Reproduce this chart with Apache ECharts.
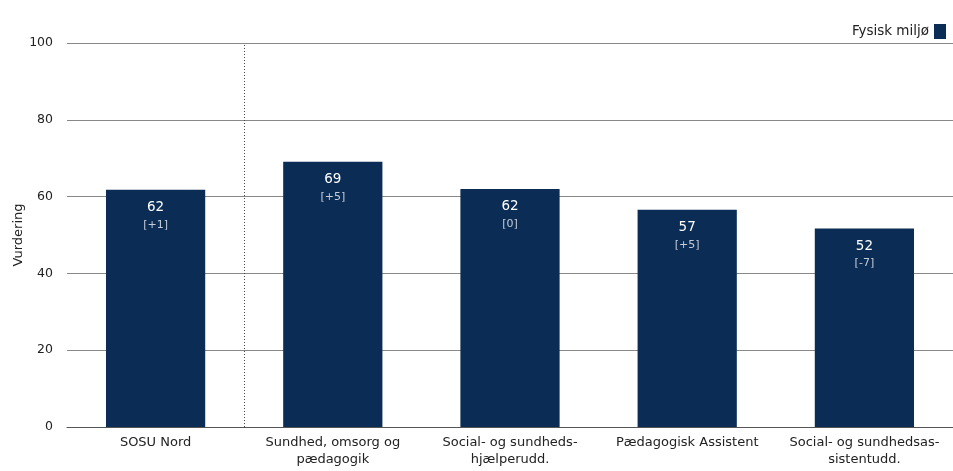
<!DOCTYPE html>
<html><head><meta charset="utf-8">
<script src="https://cdn.jsdelivr.net/npm/echarts@6/dist/echarts.min.js"></script>
<style>html,body{margin:0;padding:0;background:#fff}#c{width:953px;height:471px}</style>
</head><body><div id="c"></div>
<script>
const categories = ['SOSU Nord', 'Sundhed, omsorg og\npædagogik', 'Social- og sundheds-\nhjælperudd.', 'Pædagogisk Assistent', 'Social- og sundhedsas-\nsistentudd.'];
const values = [61.8, 69.1, 62, 56.6, 51.7];
const valueLabels = ['62', '69', '62', '57', '52'];
const changes = ['[+1]', '[+5]', '[0]', '[+5]', '[-7]'];
const yTicks = [0, 20, 40, 60, 80, 100];
const seriesName = 'Fysisk miljø';
const dividerAt = [1];

const FONT = '"DejaVu Sans", sans-serif';
const chart = echarts.init(document.getElementById('c'));
chart.setOption({
  animation: false,
  textStyle: {fontFamily: FONT},
  legend: {
    data: [{name: seriesName, icon: 'rect'}], right: 2, top: 19, align: 'right',
    itemWidth: 12, itemHeight: 15, itemGap: 6,
    textStyle: {fontFamily: FONT, fontSize: 13.5, color: '#222'}
  },
  grid: {left: 67, right: 0, top: 43, bottom: 44, containLabel: false, outerBoundsMode: 'none'},
  xAxis: [{
    type: 'category', data: categories,
    axisLine: {lineStyle: {color: '#555', width: 1}},
    axisTick: {show: false},
    axisLabel: {fontFamily: FONT, fontSize: 13, color: '#222', lineHeight: 17, margin: 7, interval: 0}
  }, {
    type: 'value', min: 0, max: categories.length, show: false
  }],
  yAxis: {
    type: 'value', min: yTicks[0], max: yTicks[yTicks.length - 1], interval: 20,
    name: 'Vurdering', nameLocation: 'middle', nameGap: 42, nameMoveOverlap: false,
    nameTextStyle: {fontFamily: FONT, fontSize: 13, color: '#222'},
    axisLine: {show: false}, axisTick: {show: false},
    axisLabel: {fontFamily: FONT, fontSize: 12.5, color: '#222', margin: 14},
    splitLine: {lineStyle: {color: '#888', width: 1}}
  },
  series: [{
    name: seriesName, type: 'bar', data: values, barWidth: '56%',
    itemStyle: {color: '#0b2d55'},
    label: {
      show: true, position: 'insideTop', distance: 9,
      formatter: p => '{a|' + valueLabels[p.dataIndex] + '}\n{b|' + changes[p.dataIndex] + '}',
      rich: {
        a: {fontFamily: FONT, fontSize: 13.5, color: '#ffffff', lineHeight: 18},
        b: {fontFamily: FONT, fontSize: 11, color: '#c5ccd8', lineHeight: 16}
      }
    }
  }, {
    type: 'line', xAxisIndex: 1, data: [], silent: true,
    markLine: {
      symbol: 'none', silent: true, label: {show: false},
      lineStyle: {type: [1, 2], color: '#444', width: 1},
      data: dividerAt.map(v => ({xAxis: v}))
    }
  }]
});
</script></body></html>
